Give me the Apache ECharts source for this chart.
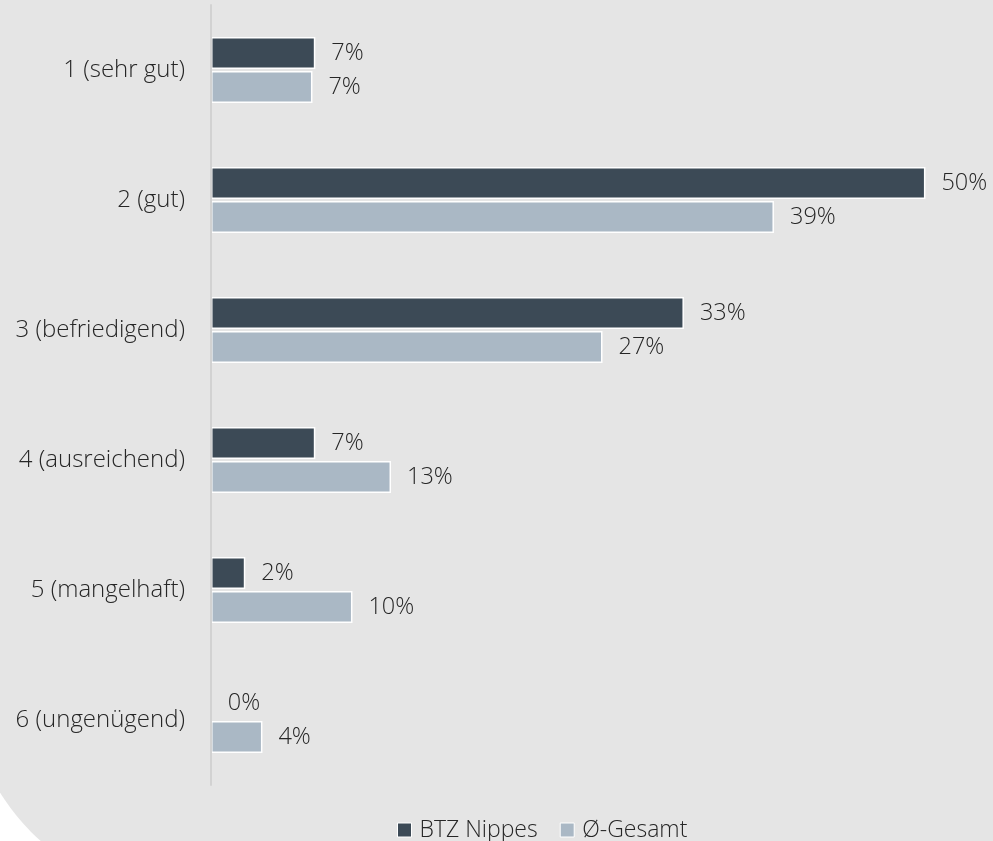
<!DOCTYPE html>
<html>
<head>
<meta charset="utf-8">
<script src="https://cdn.jsdelivr.net/npm/echarts@6/dist/echarts.min.js"></script>
<style>
  html, body { margin: 0; padding: 0; background: #ffffff; }
  #chart { width: 993px; height: 841px; }
</style>
</head>
<body>
<div id="chart"></div>
<script>
// Noten, oben nach unten
const categories = ['1 (sehr gut)', '2 (gut)', '3 (befriedigend)', '4 (ausreichend)', '5 (mangelhaft)', '6 (ungenügend)'];
const btzNippes = [7.3, 50, 33.1, 7.3, 2.4, 0];
const gesamt = [7.1, 39.4, 27.4, 12.6, 9.9, 3.6];
const seriesNames = ['BTZ Nippes', 'Ø-Gesamt'];

const FONT = 'Open Sans';
const TEXT = '#262626';

let chart = echarts.init(document.getElementById('chart'), null, { renderer: 'canvas' });

const pctLabel = {
    show: true,
    position: 'right',
    distance: 16,
    color: TEXT,
    fontFamily: FONT,
    fontWeight: 300,
    fontSize: 23.5,
    formatter: p => Math.round(p.value) + '%',
};

chart.setOption({
    backgroundColor: 'transparent',
    animation: false,
    graphic: [
        {
            type: 'rect',
            z: -10,
            silent: true,
            shape: { x: -31, y: -10, width: 1100, height: 904, r: [0, 0, 0, 212] },
            style: { fill: '#e5e5e5' },
        },
    ],
    legend: {
        data: seriesNames,
        left: 397,
        top: 816,
        padding: 0,
        itemWidth: 14,
        itemHeight: 14,
        itemGap: 22,
        icon: 'rect',
        itemStyle: { borderColor: '#ffffff', borderWidth: 1 },
        textStyle: { color: TEXT, fontFamily: FONT, fontWeight: 300, fontSize: 23, lineHeight: 28, padding: [0, 0, 0, 3] },
    },
    grid: { left: 211, right: 39, top: 5, bottom: 56, containLabel: false },
    xAxis: {
        type: 'value',
        min: 0,
        max: 52,
        show: false,
    },
    yAxis: {
        type: 'category',
        inverse: true,
        z: 5,
        data: categories,
        axisLine: { show: true, lineStyle: { color: '#d2d2d2', width: 2 } },
        axisTick: { show: false },
        axisLabel: { color: TEXT, fontFamily: FONT, fontWeight: 300, fontSize: 24, margin: 26 },
    },
    series: [
        {
            name: seriesNames[0],
            type: 'bar',
            data: btzNippes,
            barWidth: 32,
            barGap: '6%',
            itemStyle: { color: '#3c4a56', borderColor: '#ffffff', borderWidth: 1.5 },
            label: pctLabel,
        },
        {
            name: seriesNames[1],
            type: 'bar',
            data: gesamt,
            barWidth: 32,
            itemStyle: { color: '#aab8c5', borderColor: '#ffffff', borderWidth: 1.5 },
            label: pctLabel,
        },
    ],
});
</script>
</body>
</html>
